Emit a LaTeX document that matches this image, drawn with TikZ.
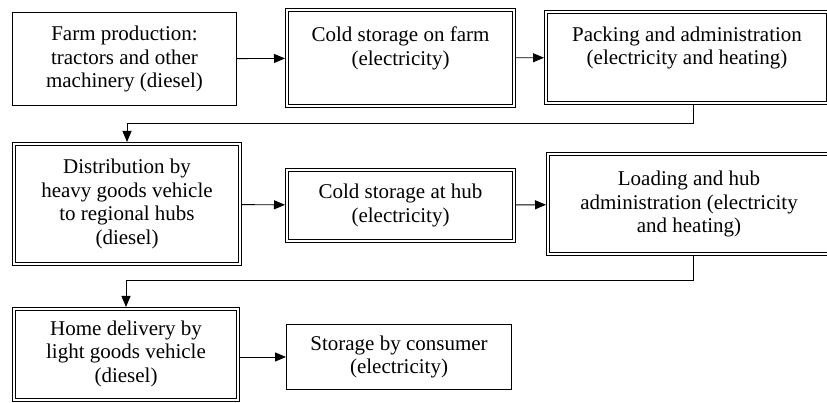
\documentclass[tikz,border=0pt]{standalone}
\usepackage{fontspec}
\setmainfont{Liberation Serif}
\usetikzlibrary{arrows.meta}
\tikzset{
  plainbox/.style={draw,line width=0.9pt,align=center,inner sep=2pt,font=\fontsize{21}{23.5}\selectfont},
  triplebox/.style={plainbox,double,line width=1.5pt,double distance=1.3pt,outer sep=2pt},
  flow/.style={line width=0.9pt,-{Triangle[length=11pt,width=9pt]}}
}
\begin{document}
\begin{tikzpicture}[x=1pt,y=-1pt]
\clip (0,0) rectangle (827,403);
% first row: on the farm
\node[plainbox,minimum width=224,minimum height=93] (farm) at (124.5,59) {Farm production:\\tractors and other\\machinery (diesel)};
\node[triplebox,minimum width=227,minimum height=96] (coldfarm) at (400.5,58) {Cold storage on farm\\(electricity)\\~};
\node[triplebox,minimum width=282,minimum height=91] (pack) at (687,57.5) {Packing and administration\\(electricity and heating)\\~};
\draw[flow] (farm) -- (coldfarm);
\draw[flow] (coldfarm) -- (pack);
% second row: regional hubs
\node[triplebox,minimum width=226,minimum height=120] (dist) at (127,204) {Distribution by\\heavy goods vehicle\\to regional hubs\\(diesel)};
\node[triplebox,minimum width=227,minimum height=71] (hubcold) at (400.5,205.5) {Cold storage at hub\\(electricity)};
\node[triplebox,minimum width=282,minimum height=100] (hubload) at (689,204) {Loading and hub\\administration (electricity\\and heating)};
\draw[flow] ([xshift=6pt]pack.south) -- ++(0,18) -| (dist.north);
\draw[flow] (dist) -- (hubcold);
\draw[flow] (hubcold) -- (hubload);
% third row: to the consumer
\node[triplebox,minimum width=224,minimum height=91] (home) at (126,354.5) {\mbox{}\\[-10.5pt]Home delivery by\\light goods vehicle\\(diesel)};
\node[plainbox,minimum width=225,minimum height=65] (consumer) at (399,357) {Storage by consumer\\(electricity)};
\draw[flow] ([xshift=4pt]hubload.south) -- ++(0,24) -| (home.north);
\draw[flow] (home.east |- consumer.west) -- (consumer.west);
\end{tikzpicture}
\end{document}
